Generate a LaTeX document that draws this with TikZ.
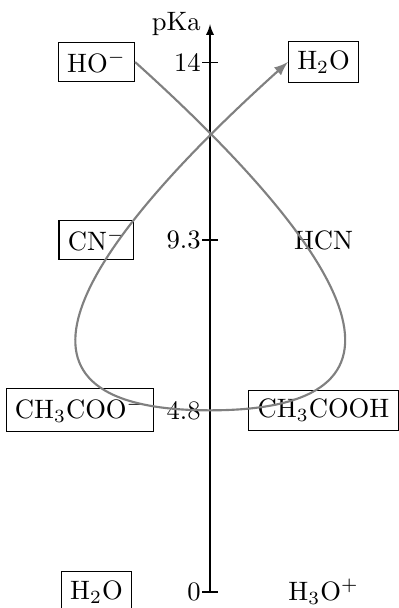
\documentclass[tikz,border=0pt]{standalone}
\usetikzlibrary{arrows}
\begin{document}
\begin{tikzpicture}[y=0.5cm,
  species/.style={draw, inner sep=0.333em},
  plain/.style={inner sep=0.333em},
  flow/.style={draw=gray, thick, -latex}]
\useasboundingbox (-2.774cm,-0.422) rectangle (2.485cm,15.64);
% axis
\draw[-latex] (0,0) -- (0,15) node[left] (pka) {pKa};
\foreach \v/\n in {14/t14, 9.3/t93, 4.8/t48, 0/t0} {
  \draw (-0.1,\v) -- (0.1,\v);
  \node[left] (\n) at (0,\v) {\v};
}
% species
\node[species] (HO) at (-1.5,14) {HO$^-$};
\node[species] (H2Ot) at (1.5,14) {H$_2$O};
\node[species] (CN) at (-1.5,9.3) {CN$^-$};
\node[plain] (HCN) at (1.5,9.3) {HCN};
\node[species] (Ac) at (-1.72,4.8) {CH$_3$COO$^-$};
\node[species] (AcH) at (1.5,4.8) {CH$_3$COOH};
\node[species] (H2Ob) at (-1.5,0) {H$_2$O};
\node[plain] (H3O) at (1.5,0) {H$_3$O$^+$};
% reaction loop
\coordinate (low) at (0,4.8);
\draw[flow] (HO.east) .. controls +(-42:3.96cm) and +(2.97cm,0) .. (low)
  .. controls +(-2.97cm,0) and +(-138:3.96cm) .. (H2Ot.west);
\end{tikzpicture}
\end{document}
